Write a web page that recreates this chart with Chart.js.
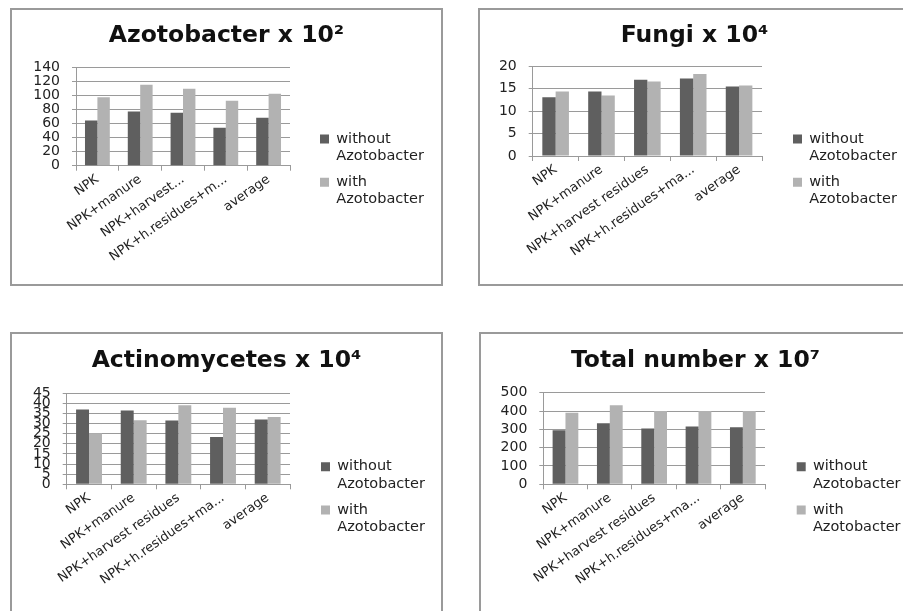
<!DOCTYPE html>
<html>
<head>
<meta charset="utf-8">
<script src="https://cdn.jsdelivr.net/npm/chart.js@4"></script>
<style>
  body { margin: 0; background: #fff; width: 903px; height: 611px; overflow: hidden; position: relative; }
  .panel { position: absolute; border: 2px solid #9a9a9a; background: #fff; }
  canvas { display: block; }
</style>
</head>
<body>
<div class="panel" style="left:10px;top:8px"><canvas id="azoto" width="429" height="274"></canvas></div>
<div class="panel" style="left:478px;top:8px"><canvas id="fungi" width="429" height="274"></canvas></div>
<div class="panel" style="left:10px;top:332px"><canvas id="actino" width="429" height="290"></canvas></div>
<div class="panel" style="left:479px;top:332px"><canvas id="total" width="429" height="290"></canvas></div>

<script>
// categories (the first chart shows shorter, cut labels)
const categoriesShort = ["NPK", "NPK+manure", "NPK+harvest...", "NPK+h.residues+m...", "average"];
const categories = ["NPK", "NPK+manure", "NPK+harvest residues", "NPK+h.residues+ma...", "average"];
const seriesNames = [["without", "Azotobacter"], ["with", "Azotobacter"]];

// values
const azotoWithout = [64, 77, 75, 54, 68];
const azotoWith = [97, 115, 109, 92, 102];
const fungiWithout = [13.1, 14.4, 17.0, 17.3, 15.5];
const fungiWith = [14.4, 13.5, 16.6, 18.3, 15.7];
const actinoWithout = [36.9, 36.4, 31.4, 23.3, 32.0];
const actinoWith = [25.1, 31.6, 39.0, 37.7, 33.2];
const totalWithout = [295, 333, 305, 316, 311];
const totalWith = [391, 432, 400, 400, 400];

// y axes
const yMax = [140, 20, 45, 500];
const yStep = [20, 5, 5, 100];

const FONT = "'DejaVu Sans', sans-serif";
const DARK = "#5f5f5f";
const LIGHT = "#b2b2b2";
const GRID = "#9a9a9a";
const TITLE_SIZE = 23.5;

// puts the legend where Excel had it and keeps its width fixed
const placeParts = {
  id: "placeParts",
  beforeLayout(chart, args, opts) {
    const lg = chart.legend;
    if (lg && !lg._fixed) {
      const fit = lg.fit.bind(lg);
      lg.fit = function () { fit(); this.width = opts.legendWidth; };
      lg._fixed = true;
    }
  },
  afterLayout(chart, args, opts) {
    const lg = chart.legend;
    const pad = chart.options.plugins.legend.labels.padding;
    lg.left = opts.legendX - pad;
    lg.top = opts.legendY - pad;
    lg.right = chart.width;
    lg.bottom = chart.height;
  }
};

function makeChart(id, title, labels, without, withA, max, step, box) {
  const canvas = document.getElementById(id);
  const titleLine = TITLE_SIZE * 1.2;
  const titleTop = box.titleY - titleLine / 2;
  new Chart(canvas.getContext("2d"), {
    type: "bar",
    data: {
      labels: labels,
      datasets: [
        { label: seriesNames[0], data: without, backgroundColor: DARK, borderWidth: 0 },
        { label: seriesNames[1], data: withA, backgroundColor: LIGHT, borderWidth: 0 }
      ]
    },
    plugins: [placeParts],
    options: {
      responsive: false,
      animation: false,
      datasets: { bar: { categoryPercentage: 0.58, barPercentage: 1 } },
      layout: { padding: 0 },
      plugins: {
        title: {
          display: true,
          text: title,
          color: "#111",
          font: { family: FONT, size: TITLE_SIZE, weight: "bold", lineHeight: 1.2 },
          padding: { top: titleTop, bottom: box.top - titleTop - titleLine }
        },
        legend: {
          position: "right",
          align: "start",
          labels: {
            boxWidth: 9,
            boxHeight: 9,
            padding: 8.7,
            color: "#222",
            font: { family: FONT, size: 14.5, lineHeight: 1.19 }
          }
        },
        tooltip: { enabled: false },
        placeParts: {
          legendWidth: canvas.width - box.right,
          legendX: box.legendX,
          legendY: box.legendY - 7.25
        }
      },
      scales: {
        x: {
          grid: { offset: true, drawOnChartArea: false, tickLength: 5, color: GRID },
          border: { color: GRID },
          ticks: { minRotation: 35, maxRotation: 35, autoSkip: false, padding: 1, color: "#222", font: { family: FONT, size: 13 } },
          afterFit: (s) => { s.height = canvas.height - box.bottom; }
        },
        y: {
          min: 0,
          max: max,
          grid: { color: GRID, tickLength: 4 },
          border: { color: GRID },
          ticks: { stepSize: step, autoSkip: false, padding: 12, color: "#222", font: { family: FONT, size: 14 } },
          afterFit: (s) => { s.width = box.left; }
        }
      }
    }
  });
}

makeChart("azoto", "Azotobacter x 10\u00B2", categoriesShort, azotoWithout, azotoWith, yMax[0], yStep[0],
  { left: 64, right: 278, top: 57, bottom: 155.7, titleY: 26, legendX: 308, legendY: 129 });
makeChart("fungi", "Fungi x 10\u2074", categories, fungiWithout, fungiWith, yMax[1], yStep[1],
  { left: 52.7, right: 282, top: 56.3, bottom: 146, titleY: 26, legendX: 313, legendY: 129 });
makeChart("actino", "Actinomycetes x 10\u2074", categories, actinoWithout, actinoWith, yMax[2], yStep[2],
  { left: 54.7, right: 278, top: 59, bottom: 150.3, titleY: 27, legendX: 309, legendY: 132.7 });
makeChart("total", "Total number x 10\u2077", categories, totalWithout, totalWith, yMax[3], yStep[3],
  { left: 62.3, right: 284, top: 58.7, bottom: 150.3, titleY: 27, legendX: 315.7, legendY: 132.7 });
</script>
</body>
</html>
